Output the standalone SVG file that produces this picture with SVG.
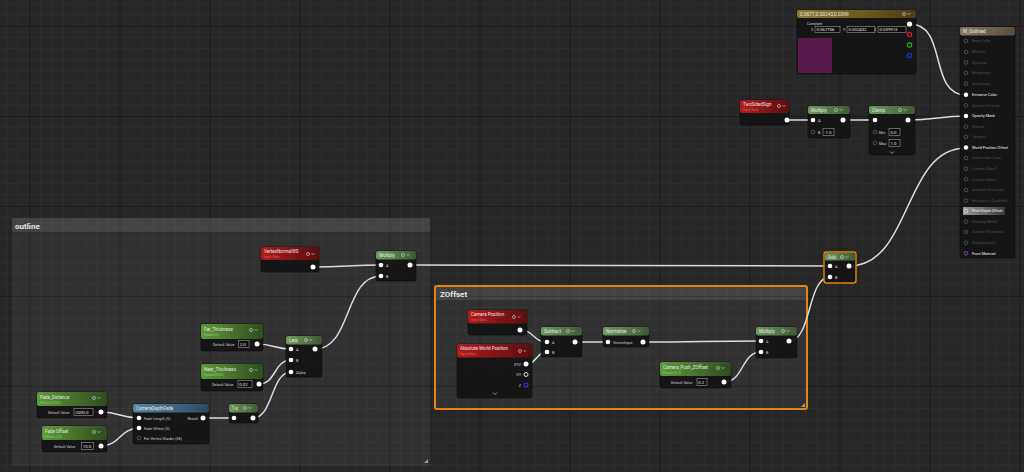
<svg xmlns="http://www.w3.org/2000/svg" width="1024" height="472" viewBox="0 0 1024 472">
<defs>
<pattern id="grid" x="29.5" y="26" width="90" height="90" patternUnits="userSpaceOnUse">
<rect width="90" height="90" fill="#262626"/>
<path d="M11.25,0V90M22.5,0V90M33.75,0V90M45,0V90M56.25,0V90M67.5,0V90M78.75,0V90M0,11.25H90M0,22.5H90M0,33.75H90M0,45H90M0,56.25H90M0,67.5H90M0,78.75H90" stroke="#2c2c2c" stroke-width="1"/>
<path d="M0.5,0V90M0,0.5H90" stroke="#1a1a1a" stroke-width="1.2"/>
</pattern>
<linearGradient id="gGreen" x1="0" y1="0" x2="1" y2="0"><stop offset="0" stop-color="#6f9a5c"/><stop offset="1" stop-color="#3d5a34"/></linearGradient>
<linearGradient id="gParam" x1="0" y1="0" x2="1" y2="0"><stop offset="0" stop-color="#5f9a3a"/><stop offset="1" stop-color="#2e4d1e"/></linearGradient>
<linearGradient id="gRed" x1="0" y1="0" x2="1" y2="0"><stop offset="0" stop-color="#b01c1c"/><stop offset="1" stop-color="#5a0e0e"/></linearGradient>
<linearGradient id="gBlue" x1="0" y1="0" x2="1" y2="0"><stop offset="0" stop-color="#5a86a6"/><stop offset="1" stop-color="#2c4a60"/></linearGradient>
<linearGradient id="gGold" x1="0" y1="0" x2="1" y2="0"><stop offset="0" stop-color="#8e7c2c"/><stop offset="1" stop-color="#4a3e12"/></linearGradient>
<linearGradient id="gRes" x1="0" y1="0" x2="1" y2="0"><stop offset="0" stop-color="#8a7866"/><stop offset="1" stop-color="#5a4c40"/></linearGradient>
<linearGradient id="gSel" x1="0" y1="0" x2="1" y2="0"><stop offset="0" stop-color="#9a9a9a"/><stop offset="1" stop-color="#3a3a3a"/></linearGradient>
<g id="gc"><circle cx="0" cy="0" r="1.5" fill="none" stroke="#ccc" stroke-width="0.7"/><path d="M3.5,-0.8l1.4,1.4l1.4,-1.4" fill="none" stroke="#ccc" stroke-width="0.7"/></g>
</defs>
<style>
text{font-family:Roboto,"Liberation Sans",sans-serif;fill:#e8e8e8}
.body{fill:#141414;fill-opacity:0.95;stroke:#0a0a0a;stroke-width:0.6}
.t{font-size:4.5px}
.ts{font-size:3.4px}
.sr{fill:#e06060}
.sg{fill:#8fce70}
.lb{font-size:3.8px;fill:#cfcfcf}
.dv{font-size:3.6px;fill:#cfcfcf}
.box{fill:#0e0e0e;stroke:#9a9a9a;stroke-width:0.6}
.val{font-size:4.3px;fill:#e8e8e8}
.on{fill:#fff}
.off{fill:none;stroke:#5a5a5a;stroke-width:0.8}
.rl{font-size:3.8px;fill:#4e4e4e}
.rla{font-size:3.8px;fill:#f0f0f0}
.wire{fill:none;stroke:#dcdcdc;stroke-width:1.5}
.grp{fill:#ffffff;fill-opacity:0.055}
.ghd{fill:#ffffff;fill-opacity:0.09}
.gt{font-size:8px;font-weight:bold;fill:#e8e8e8}
.chev{fill:none;stroke:#bbb;stroke-width:0.7}
</style>
<rect width="1024" height="472" fill="url(#grid)"/>

<!-- comment groups -->
<g id="grp-outline">
<rect class="grp" x="12" y="218" width="418" height="248"/>
<rect class="ghd" x="12" y="218" width="418" height="14"/>
<text class="gt" x="15" y="228.5">outline</text>
<path d="M428,463l-4,0l4,-4z" fill="#9a9a9a"/>
</g>
<g id="grp-zoffset">
<rect class="grp" x="435" y="286" width="372" height="123" rx="2"/>
<rect class="ghd" x="436" y="287" width="370" height="13"/>
<rect x="435" y="286" width="372" height="123" rx="2" fill="none" stroke="#e6850e" stroke-width="2"/>
<text class="gt" x="440" y="297">ZOffset</text>
<path d="M805,407l-4,0l4,-4z" fill="#9a9a9a"/>
</g>

<!-- connectors -->
<g id="connectors">
<path class="wire" d="M910,24C948,24 928,95 966,95"/>
<path class="wire" d="M787,120L813,120"/>
<path class="wire" d="M843,120L875,120"/>
<path class="wire" d="M908,120C935,120 940,116 966,116"/>
<path class="wire" d="M849,266C912,266 903,148 966,148"/>
<path class="wire" d="M313,267C345,267 350,265 381,265"/>
<path class="wire" d="M410,265C600,265 640,266 830,266"/>
<path class="wire" d="M315,349C352,349 344,276 381,276"/>
<path class="wire" d="M257,344C274,344 274,349 291,349"/>
<path class="wire" d="M259,384C276,384 274,360 291,360"/>
<path class="wire" d="M253,418C273,418 271,372 291,372"/>
<path class="wire" d="M101,412C120,412 120,418 139,418"/>
<path class="wire" d="M101,446C120,446 120,428 139,428"/>
<path class="wire" d="M203,418L234,418"/>
<path class="wire" d="M520,330C534,330 533,342 547,342"/>
<path class="wire" d="M526,364C537,364 536,352 547,352"/>
<path class="wire" d="M575,342L608,342"/>
<path class="wire" d="M643,342C700,342 704,341 761,341"/>
<path class="wire" d="M724,382C744,382 741,352 761,352"/>
<path class="wire" d="M789,341C812,341 807,277 830,277"/>
</g>

<!-- Constant -->
<g id="n-constant">
<rect class="body" x="797" y="10" width="119" height="64" rx="2"/>
<rect x="797" y="10" width="119" height="8" rx="2" fill="url(#gGold)"/>
<text class="t" x="800" y="15.8" style="font-size:4.8px">0.0677,0.00243,0.0399</text>
<use href="#gc" x="904" y="14"/>
<text class="lb" x="807" y="24.5">Constant</text>
<text class="dv" x="811" y="31">X</text>
<rect class="box" x="815" y="26.5" width="25" height="6"/>
<text class="val" x="816.5" y="31.4">0.067706</text>
<text class="dv" x="843" y="31">Y</text>
<rect class="box" x="847" y="26.5" width="28" height="6"/>
<text class="val" x="848.5" y="31.4">0.002432</text>
<text class="dv" x="874" y="31">Z</text>
<rect class="box" x="878" y="26.5" width="28" height="6"/>
<text class="val" x="879.5" y="31.4">0.039913</text>
<rect x="798" y="38" width="34" height="35" fill="#5a1a4c"/>
<circle class="on" cx="909.5" cy="24" r="2.6"/>
<circle cx="909.5" cy="34.5" r="2.2" fill="none" stroke="#d02020" stroke-width="1.2"/>
<circle cx="909.5" cy="45" r="2.2" fill="none" stroke="#20b020" stroke-width="1.2"/>
<circle cx="909.5" cy="55.5" r="2.2" fill="none" stroke="#2030d0" stroke-width="1.2"/>
</g>

<!-- Result node -->
<g id="n-result">
<rect class="body" x="960" y="27" width="55" height="231" rx="2"/>
<rect x="960" y="27" width="55" height="8.5" rx="2" fill="url(#gRes)"/>
<text class="t" x="963" y="33.3">M_Outlined</text>
<rect x="963" y="207" width="42" height="8" fill="url(#gSel)"/>
<g class="rows">
<circle class="off" cx="966" cy="41" r="1.8"/><text class="rl" x="972" y="42.3">Base Color</text>
<circle class="off" cx="966" cy="52" r="1.8"/><text class="rl" x="972" y="53.3">Metallic</text>
<circle class="off" cx="966" cy="62.5" r="1.8"/><text class="rl" x="972" y="63.8">Specular</text>
<circle class="off" cx="966" cy="73" r="1.8"/><text class="rl" x="972" y="74.3">Roughness</text>
<circle class="off" cx="966" cy="83.7" r="1.8"/><text class="rl" x="972" y="85">Anisotropy</text>
<circle class="on" cx="966" cy="94.7" r="2.2"/><text class="rla" x="972" y="96">Emissive Color</text>
<circle class="off" cx="966" cy="105.3" r="1.8"/><text class="rl" x="972" y="106.6">Opacity Override</text>
<circle class="on" cx="966" cy="116" r="2.2"/><text class="rla" x="972" y="117.3">Opacity Mask</text>
<circle class="off" cx="966" cy="126.7" r="1.8"/><text class="rl" x="972" y="128">Normal</text>
<circle class="off" cx="966" cy="137" r="1.8"/><text class="rl" x="972" y="138.3">Tangent</text>
<circle class="on" cx="966" cy="147.5" r="2.2"/><text class="rla" x="972" y="148.8">World Position Offset</text>
<circle class="off" cx="966" cy="158" r="1.8"/><text class="rl" x="972" y="159.3">Subsurface Color</text>
<circle class="off" cx="966" cy="168.7" r="1.8"/><text class="rl" x="972" y="170">Custom Data 0</text>
<circle class="off" cx="966" cy="179.2" r="1.8"/><text class="rl" x="972" y="180.5">Custom Data 1</text>
<circle class="off" cx="966" cy="190" r="1.8"/><text class="rl" x="972" y="191.3">Ambient Occlusion</text>
<circle class="off" cx="966" cy="200.7" r="1.8"/><text class="rl" x="972" y="202">Refraction (Disabled)</text>
<circle cx="966" cy="211" r="1.8" fill="none" stroke="#ddd" stroke-width="0.8"/><text class="rla" x="972" y="212.3">Pixel Depth Offset</text>
<circle class="off" cx="966" cy="221.5" r="1.8"/><text class="rl" x="972" y="222.8">Shading Model</text>
<circle class="off" cx="966" cy="232" r="1.8"/><text class="rl" x="972" y="233.3">Surface Thickness</text>
<circle class="off" cx="966" cy="242.7" r="1.8"/><text class="rl" x="972" y="244">Displacement</text>
<circle cx="966" cy="253.3" r="1.8" fill="none" stroke="#9a3ad0" stroke-width="0.9"/><text class="rla" x="972" y="254.6">Front Material</text>
</g>
</g>

<!-- TwoSidedSign -->
<g id="n-twosided">
<rect class="body" x="740" y="100" width="49" height="25" rx="2"/>
<rect x="740" y="100" width="49" height="13" rx="2" fill="url(#gRed)"/>
<text class="t" x="743" y="106.3">TwoSidedSign</text>
<text class="ts sr" x="743" y="110.8">Input Data</text>
<use href="#gc" x="779" y="106"/>
<circle class="on" cx="787" cy="120" r="2.5"/>
</g>

<!-- Multiply (top) -->
<g id="n-multiply-top">
<rect class="body" x="808" y="106" width="42" height="32" rx="2"/>
<rect x="808" y="106" width="42" height="8" rx="2" fill="url(#gGreen)"/>
<text class="t" x="811" y="111.8">Multiply</text>
<use href="#gc" x="836" y="110"/>
<circle class="on" cx="813" cy="120" r="2.3"/><text class="lb" x="818" y="121.5">A</text>
<circle class="off" cx="813" cy="132" r="1.8"/><text class="lb" x="818" y="133.5">B</text>
<rect class="box" x="823" y="128.5" width="11" height="7"/><text class="val" x="824.2" y="133.6">-1.0</text>
<circle class="on" cx="843" cy="120" r="2.5"/>
</g>

<!-- Clamp -->
<g id="n-clamp">
<rect class="body" x="869" y="106" width="46" height="49" rx="2"/>
<rect x="869" y="106" width="46" height="8" rx="2" fill="url(#gGreen)"/>
<text class="t" x="872" y="111.8">Clamp</text>
<use href="#gc" x="900" y="110"/>
<circle class="on" cx="875" cy="120" r="2.3"/>
<circle class="on" cx="908" cy="120" r="2.5"/>
<circle class="off" cx="875" cy="132" r="1.8"/><text class="lb" x="879" y="133.5">Min</text>
<rect class="box" x="889" y="128.5" width="11" height="7"/><text class="val" x="890.5" y="133.6">0.0</text>
<circle class="off" cx="875" cy="143" r="1.8"/><text class="lb" x="879" y="144.5">Max</text>
<rect class="box" x="889" y="139.5" width="11" height="7"/><text class="val" x="890.5" y="144.6">1.0</text>
<path class="chev" d="M890,151.5l2,2l2,-2"/>
</g>

<!-- VertexNormalWS -->
<g id="n-vertexnormal">
<rect class="body" x="261" y="247" width="58" height="25" rx="2"/>
<rect x="261" y="247" width="58" height="13" rx="2" fill="url(#gRed)"/>
<text class="t" x="264" y="253.3">VertexNormalWS</text>
<text class="ts sr" x="264" y="257.8">Input Data</text>
<use href="#gc" x="308" y="254"/>
<circle class="on" cx="313" cy="267" r="2.5"/>
</g>

<!-- Multiply (outline) -->
<g id="n-multiply-outline">
<rect class="body" x="376" y="251" width="40" height="30" rx="2"/>
<rect x="376" y="251" width="40" height="8.5" rx="2" fill="url(#gGreen)"/>
<text class="t" x="379" y="257">Multiply</text>
<use href="#gc" x="403" y="255"/>
<circle class="on" cx="381" cy="265" r="2.3"/><text class="lb" x="386" y="266.5">A</text>
<circle class="on" cx="381" cy="276" r="2.3"/><text class="lb" x="386" y="277.5">B</text>
<circle class="on" cx="410" cy="265" r="2.5"/>
</g>

<!-- Far_Thickness -->
<g id="n-far">
<rect class="body" x="201" y="324" width="62" height="27" rx="2"/>
<rect x="201" y="324" width="62" height="15" rx="2" fill="url(#gParam)"/>
<text class="t" x="204" y="330.8">Far_Thickness</text>
<text class="ts sg" x="204" y="336.3">Param (2)</text>
<use href="#gc" x="251" y="330"/>
<text class="dv" x="213" y="345.5">Default Value</text>
<rect class="box" x="238.5" y="340.5" width="10.5" height="7"/><text class="val" x="239.8" y="345.6">2.0</text>
<circle class="on" cx="257" cy="344" r="2.5"/>
</g>

<!-- Lerp -->
<g id="n-lerp">
<rect class="body" x="286" y="336" width="36" height="41" rx="2"/>
<rect x="286" y="336" width="36" height="8.5" rx="2" fill="url(#gGreen)"/>
<text class="t" x="289" y="342">Lerp</text>
<use href="#gc" x="306" y="340"/>
<circle class="on" cx="291" cy="349" r="2.3"/><text class="lb" x="296" y="350.5">A</text>
<circle class="on" cx="291" cy="360" r="2.3"/><text class="lb" x="296" y="361.5">B</text>
<circle class="on" cx="291" cy="372" r="2.3"/><text class="lb" x="296" y="373.5">Alpha</text>
<circle class="on" cx="315" cy="349" r="2.5"/>
</g>

<!-- Near_Thickness -->
<g id="n-near">
<rect class="body" x="201" y="364" width="62" height="27" rx="2"/>
<rect x="201" y="364" width="62" height="15" rx="2" fill="url(#gParam)"/>
<text class="t" x="204" y="370.8">Near_Thickness</text>
<text class="ts sg" x="204" y="376.3">Param (0.02)</text>
<use href="#gc" x="251" y="370"/>
<text class="dv" x="212" y="385.5">Default Value</text>
<rect class="box" x="238" y="380.5" width="14" height="7"/><text class="val" x="239.3" y="385.6">0.02</text>
<circle class="on" cx="259" cy="384" r="2.5"/>
</g>

<!-- Fade_Distance -->
<g id="n-fadedist">
<rect class="body" x="37" y="392" width="70" height="26" rx="2"/>
<rect x="37" y="392" width="70" height="14" rx="2" fill="url(#gParam)"/>
<text class="t" x="40" y="398.8">Fade_Distance</text>
<text class="ts sg" x="40" y="403.8">Param (2000)</text>
<use href="#gc" x="94" y="398"/>
<text class="dv" x="48" y="413.5">Default Value</text>
<rect class="box" x="74" y="408.5" width="19" height="7"/><text class="val" x="75.3" y="413.6">2000.0</text>
<circle class="on" cx="101" cy="412" r="2.5"/>
</g>

<!-- Fade Offset -->
<g id="n-fadeoffset">
<rect class="body" x="42" y="426" width="65" height="26" rx="2"/>
<rect x="42" y="426" width="65" height="14" rx="2" fill="url(#gParam)"/>
<text class="t" x="45" y="432.8">Fade Offset</text>
<text class="ts sg" x="45" y="437.8">Param (10)</text>
<use href="#gc" x="94" y="432"/>
<text class="dv" x="54" y="447.5">Default Value</text>
<rect class="box" x="81.5" y="442.5" width="12" height="7"/><text class="val" x="82.8" y="447.6">10.0</text>
<circle class="on" cx="101" cy="446" r="2.5"/>
</g>

<!-- CameraDepthFade -->
<g id="n-cameradepthfade">
<rect class="body" x="133" y="404" width="76" height="40" rx="2"/>
<rect x="133" y="404" width="76" height="8.5" rx="2" fill="url(#gBlue)"/>
<text class="t" x="136" y="410">CameraDepthFade</text>
<circle class="on" cx="139" cy="418" r="2.3"/><text class="lb" x="144" y="419.5">Fade Length (S)</text>
<circle class="on" cx="139" cy="428" r="2.3"/><text class="lb" x="144" y="429.5">Fade Offset (S)</text>
<circle class="off" cx="139" cy="438" r="1.8"/><text class="lb" x="144" y="439.5">For Vertex Shader (SE)</text>
<text class="lb" x="198" y="419.5" text-anchor="end">Result</text>
<circle class="on" cx="203" cy="418" r="2.5"/>
</g>

<!-- 1-x -->
<g id="n-oneminus">
<rect class="body" x="229" y="404" width="29" height="19" rx="2"/>
<rect x="229" y="404" width="29" height="8.5" rx="2" fill="url(#gGreen)"/>
<text class="t" x="232" y="410">1-x</text>
<use href="#gc" x="245" y="408"/>
<circle class="on" cx="234" cy="418" r="2.3"/>
<circle class="on" cx="253" cy="418" r="2.5"/>
</g>

<!-- Camera Position -->
<g id="n-camerapos">
<rect class="body" x="468" y="310" width="59" height="25" rx="2"/>
<rect x="468" y="310" width="59" height="13.5" rx="2" fill="url(#gRed)"/>
<text class="t" x="471" y="316.3">Camera Position</text>
<text class="ts sr" x="471" y="320.8">Input Data</text>
<use href="#gc" x="514" y="317"/>
<circle class="on" cx="520" cy="330" r="2.5"/>
</g>

<!-- Absolute World Position -->
<g id="n-absworldpos">
<rect class="body" x="457" y="344" width="75" height="54" rx="2"/>
<rect x="457" y="344" width="75" height="13.5" rx="2" fill="url(#gRed)"/>
<text class="t" x="460" y="350.3">Absolute World Position</text>
<text class="ts sr" x="460" y="354.8">Input Data</text>
<use href="#gc" x="520" y="351"/>
<text class="lb" x="521" y="365.5" text-anchor="end">XYZ</text>
<circle class="on" cx="526" cy="364" r="2.5"/>
<text class="lb" x="521" y="375.5" text-anchor="end">XY</text>
<circle cx="526" cy="374.5" r="2" fill="none" stroke="#ddd" stroke-width="1"/>
<text class="lb" x="521" y="386.5" text-anchor="end">Z</text>
<circle cx="526" cy="385" r="2" fill="none" stroke="#2a3ae0" stroke-width="1.1"/>
<path class="chev" d="M493,392.5l2,2l2,-2"/>
</g>

<!-- Subtract -->
<g id="n-subtract">
<rect class="body" x="541" y="327" width="41" height="30" rx="2"/>
<rect x="541" y="327" width="41" height="8.5" rx="2" fill="url(#gGreen)"/>
<text class="t" x="544" y="333">Subtract</text>
<use href="#gc" x="568" y="331"/>
<circle class="on" cx="547" cy="342" r="2.3"/><text class="lb" x="552" y="343.5">A</text>
<circle class="on" cx="547" cy="352" r="2.3"/><text class="lb" x="552" y="353.5">B</text>
<circle class="on" cx="575" cy="342" r="2.5"/>
</g>

<!-- Normalize -->
<g id="n-normalize">
<rect class="body" x="603" y="327" width="46" height="20" rx="2"/>
<rect x="603" y="327" width="46" height="8.5" rx="2" fill="url(#gGreen)"/>
<text class="t" x="606" y="333">Normalize</text>
<use href="#gc" x="634" y="331"/>
<circle class="on" cx="608" cy="342" r="2.3"/><text class="lb" x="613" y="343.5">VectorInput</text>
<circle class="on" cx="643" cy="342" r="2.5"/>
</g>

<!-- Multiply (ZOffset) -->
<g id="n-multiply-z">
<rect class="body" x="756" y="327" width="41" height="31" rx="2"/>
<rect x="756" y="327" width="41" height="8.5" rx="2" fill="url(#gGreen)"/>
<text class="t" x="759" y="333">Multiply</text>
<use href="#gc" x="783" y="331"/>
<circle class="on" cx="761" cy="341" r="2.3"/><text class="lb" x="766" y="342.5">A</text>
<circle class="on" cx="761" cy="352" r="2.3"/><text class="lb" x="766" y="353.5">B</text>
<circle class="on" cx="789" cy="341" r="2.5"/>
</g>

<!-- Camera_Push_ZOffset -->
<g id="n-camerapush">
<rect class="body" x="660" y="362" width="71" height="26" rx="2"/>
<rect x="660" y="362" width="71" height="14" rx="2" fill="url(#gParam)"/>
<text class="t" x="663" y="368.8">Camera_Push_ZOffset</text>
<text class="ts sg" x="663" y="373.8">Param (0.2)</text>
<use href="#gc" x="718" y="368"/>
<text class="dv" x="671" y="383.5">Default Value</text>
<rect class="box" x="697" y="378.5" width="10" height="7"/><text class="val" x="698.3" y="383.6">0.2</text>
<circle class="on" cx="724" cy="382" r="2.5"/>
</g>

<!-- Add -->
<g id="n-add">
<rect class="body" x="824" y="252" width="32" height="31" rx="2.5"/>
<rect x="825" y="253" width="30" height="7.5" rx="1.5" fill="url(#gGreen)"/>
<text class="t" x="828" y="258.5">Add</text>
<use href="#gc" x="842" y="257"/>
<rect x="824" y="252" width="32" height="31" rx="2.5" fill="none" stroke="#e6850e" stroke-width="1.4"/>
<circle class="on" cx="830" cy="266" r="2.3"/><text class="lb" x="835" y="267.5">A</text>
<circle class="on" cx="830" cy="277" r="2.3"/><text class="lb" x="835" y="278.5">B</text>
<circle class="on" cx="849" cy="266" r="2.5"/>
</g>
</svg>
